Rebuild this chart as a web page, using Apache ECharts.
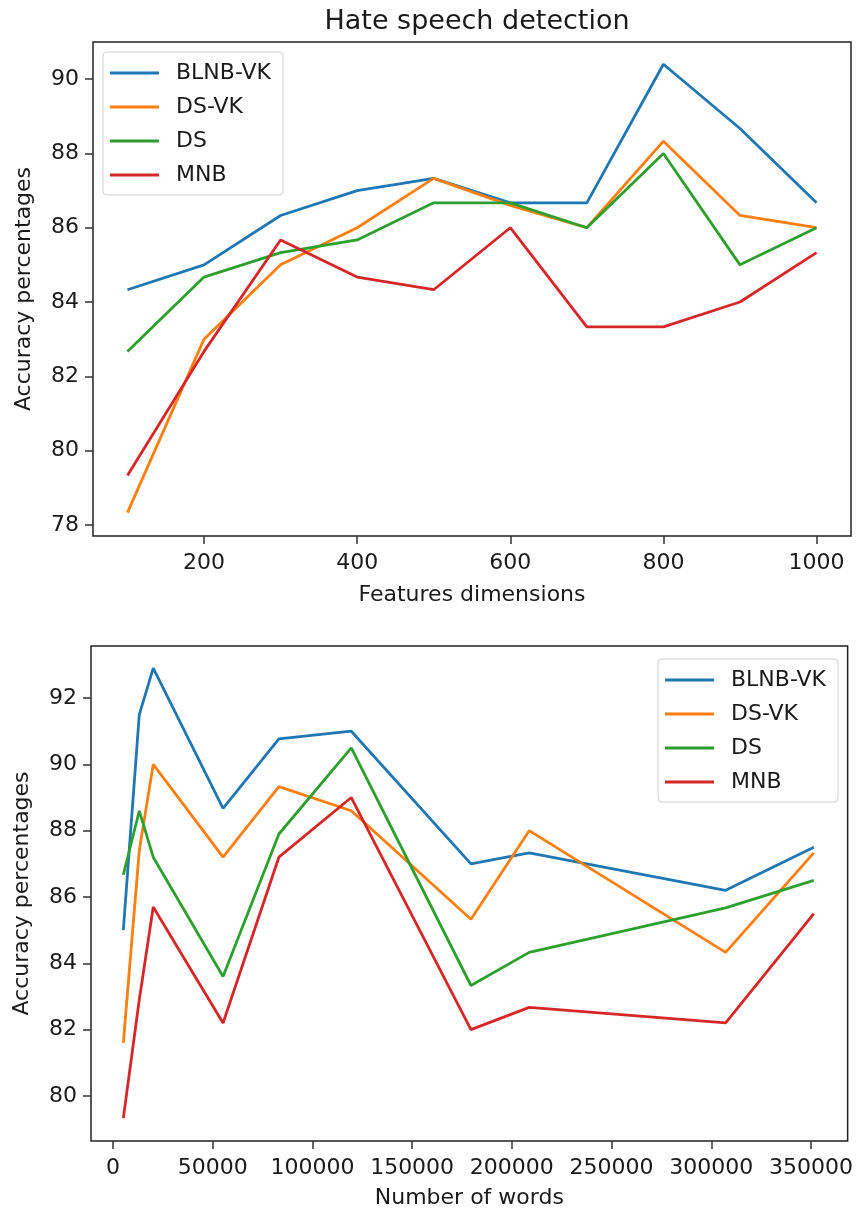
<!DOCTYPE html>
<html>
<head>
<meta charset="utf-8">
<script src="https://cdn.jsdelivr.net/npm/echarts@6/dist/echarts.min.js"></script>
<style>
  html, body { margin: 0; padding: 0; background: #fff; }
  #chart { width: 856px; height: 1212px; }
</style>
</head>
<body>
<div id="chart"></div>
<script>
// top panel: accuracy vs feature dimensions
const featureDims = [100, 200, 300, 400, 500, 600, 700, 800, 900, 1000]
const blnbVkDims = [84.33, 85.0, 86.33, 87.0, 87.33, 86.67, 86.67, 90.4, 88.67, 86.67]
const dsVkDims = [78.33, 83.0, 85.0, 86.0, 87.33, 86.6, 86.0, 88.33, 86.33, 86.0]
const dsDims = [82.67, 84.67, 85.33, 85.67, 86.67, 86.67, 86.0, 88.0, 85.0, 86.0]
const mnbDims = [79.33, 82.67, 85.67, 84.67, 84.33, 86.0, 83.33, 83.33, 84.0, 85.33]

// bottom panel: accuracy vs number of words
const numWords = [5200, 13200, 20200, 55200, 83200, 119500, 179500, 208700, 307200, 351400]
const blnbVkWords = [85.0, 91.5, 92.9, 88.67, 90.77, 91.0, 87.0, 87.33, 86.2, 87.5]
const dsVkWords = [81.6, 87.4, 90.0, 87.2, 89.33, 88.6, 85.33, 88.0, 84.33, 87.33]
const dsWords = [86.67, 88.6, 87.2, 83.6, 87.9, 90.5, 83.33, 84.33, 85.67, 86.5]
const mnbWords = [79.33, 82.9, 85.7, 82.2, 87.2, 89.0, 82.0, 82.67, 82.2, 85.5]

// tick labels
const dimTicks = [200, 400, 600, 800, 1000]
const wordTicks = [0, 50000, 100000, 150000, 200000, 250000, 300000, 350000]
const accTicksTop = [78, 80, 82, 84, 86, 88, 90]
const accTicksBottom = [80, 82, 84, 86, 88, 90, 92]

const names = ['BLNB-VK', 'DS-VK', 'DS', 'MNB']
const colors = ['#1f77b4', '#ff7f0e', '#2ca02c', '#d62728']

const FONT = 'DejaVu Sans'
const TXT = '#1a1a1a'

const chart = echarts.init(document.getElementById('chart'), null, { renderer: 'canvas' })

function zip (xs, ys) {
  return xs.map((x, i) => [x, ys[i]])
}

// plain numbers, no thousands separators
const plain = (v) => String(v)

function xAxisCfg (gridIndex, min, max, ticks, name, nameGap) {
  return {
    type: 'value',
    gridIndex,
    min,
    max,
    name,
    nameLocation: 'middle',
    nameGap,
    nameTextStyle: { fontFamily: FONT, fontSize: 22, color: TXT },
    splitLine: { show: false },
    axisLine: { show: false, onZero: false },
    axisTick: { show: true, length: 8, lineStyle: { color: '#333', width: 1.5 }, customValues: ticks },
    axisLabel: { fontFamily: FONT, fontSize: 22, color: TXT, margin: 16, customValues: ticks, formatter: plain }
  }
}

function yAxisCfg (gridIndex, min, max, ticks) {
  return {
    type: 'value',
    gridIndex,
    min,
    max,
    name: 'Accuracy percentages',
    nameLocation: 'middle',
    nameGap: 58,
    nameTextStyle: { fontFamily: FONT, fontSize: 22, color: TXT },
    splitLine: { show: false },
    axisLine: { show: false, onZero: false },
    axisTick: { show: true, length: 8, lineStyle: { color: '#333', width: 1.5 }, customValues: ticks },
    axisLabel: { fontFamily: FONT, fontSize: 22, color: TXT, margin: 14, customValues: ticks, formatter: plain }
  }
}

function legendCfg (pos) {
  return Object.assign({
    orient: 'vertical',
    data: names,
    icon: 'rect',
    itemWidth: 49,
    itemHeight: 3,
    itemGap: 12,
    padding: [10, 12, 9, 7],
    backgroundColor: 'rgba(255,255,255,0.8)',
    borderColor: '#d0d0d0',
    borderWidth: 1,
    borderRadius: 4,
    selectedMode: false,
    textStyle: { fontFamily: FONT, fontSize: 22, color: TXT, lineHeight: 22, padding: [0, 0, 0, 12] }
  }, pos)
}

const topSeries = [blnbVkDims, dsVkDims, dsDims, mnbDims]
const bottomSeries = [blnbVkWords, dsVkWords, dsWords, mnbWords]

const series = []
topSeries.forEach((ys, i) => {
  series.push({
    name: names[i], type: 'line', xAxisIndex: 0, yAxisIndex: 0,
    data: zip(featureDims, ys), symbol: 'none', color: colors[i],
    lineStyle: { width: 2.8, color: colors[i] }
  })
})
bottomSeries.forEach((ys, i) => {
  series.push({
    name: names[i], type: 'line', xAxisIndex: 1, yAxisIndex: 1,
    data: zip(numWords, ys), symbol: 'none', color: colors[i],
    lineStyle: { width: 2.8, color: colors[i] }
  })
})

const option = {
  animation: false,
  backgroundColor: '#fff',
  color: colors,
  title: {
    text: 'Hate speech detection',
    left: 472,
    top: 3,
    textAlign: 'center',
    textStyle: { fontFamily: FONT, fontSize: 27, fontWeight: 'normal', color: TXT }
  },
  legend: [
    legendCfg({ left: 103, top: 52 }),
    legendCfg({ left: 658, top: 659 })
  ],
  grid: [
    { left: 93, top: 42, width: 758, height: 494, show: true, borderColor: '#222', borderWidth: 1.5, backgroundColor: 'transparent', containLabel: false },
    { left: 91, top: 646, width: 758, height: 495, show: true, borderColor: '#222', borderWidth: 1.5, backgroundColor: 'transparent', containLabel: false }
  ],
  xAxis: [
    xAxisCfg(0, 55, 1045, dimTicks, 'Features dimensions', 48),
    xAxisCfg(1, -11010, 368370, wordTicks, 'Number of words', 46)
  ],
  yAxis: [
    yAxisCfg(0, 77.7, 91.0, accTicksTop),
    yAxisCfg(1, 78.64, 93.57, accTicksBottom)
  ],
  series
}

chart.setOption(option)
</script>
</body>
</html>
